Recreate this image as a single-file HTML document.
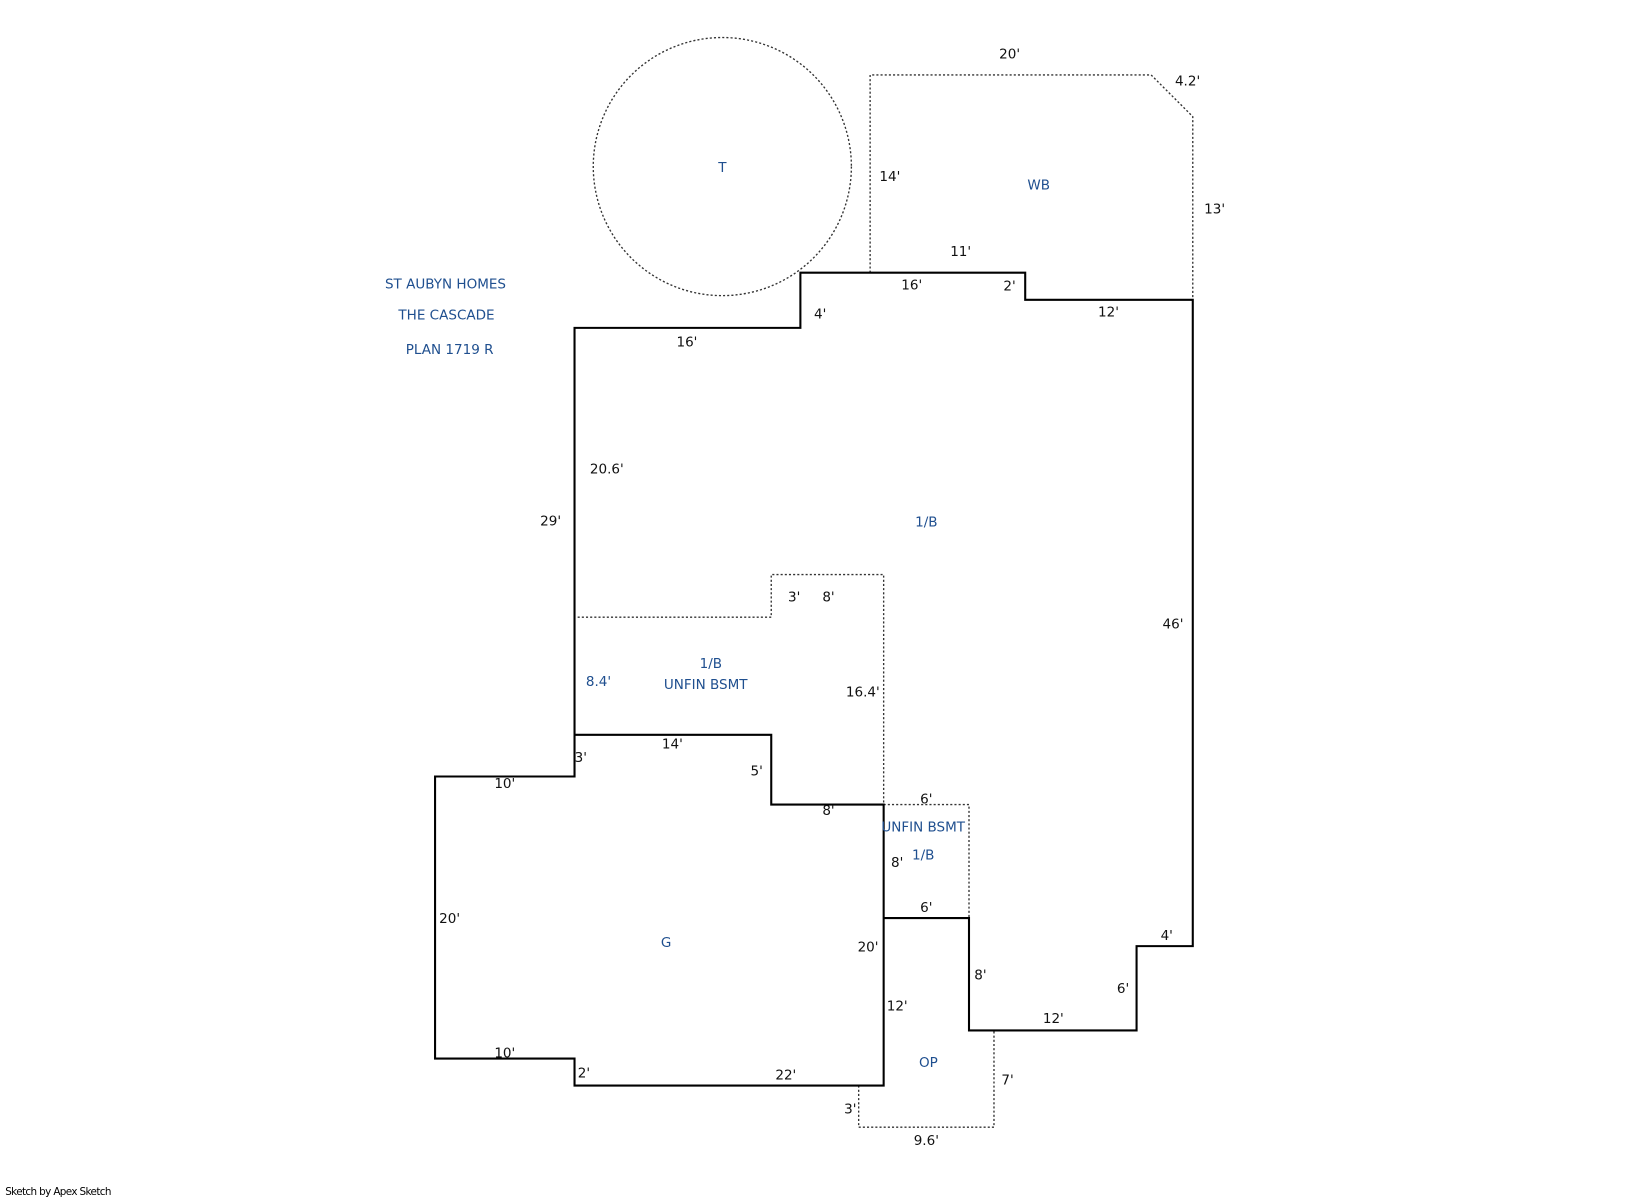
<!DOCTYPE html>
<html><head><meta charset="utf-8"><style>
html,body{margin:0;padding:0;background:#fff;}
svg{display:block;}
text{font-family:"DejaVu Sans","Liberation Sans",sans-serif;font-size:13px;}
.k{fill:#111;}
.b{fill:#1f4f8f;}
</style></head><body>
<svg width="1632" height="1197" viewBox="0 0 1568 1150" xmlns="http://www.w3.org/2000/svg">
<rect width="1568" height="1150" fill="#fff"/>
<g fill="none" stroke="#333" stroke-width="1.3" stroke-dasharray="2,2">
<circle cx="694" cy="160" r="124"/>
<polyline points="836,262 836,72 1106,72 1146,112 1146,288"/>
<polyline points="555,593 741,593 741,552 849,552 849,773"/>
<polyline points="849,773 931,773 931,882"/>
<polyline points="825,1043 825,1083 955,1083 955,990"/>
</g>
<g fill="none" stroke="#000" stroke-width="2">
<polyline points="552,746 552,315 769,315 769,262 985,262 985,288 1146,288 1146,909 1092,909 1092,990 931,990 931,882 849,882 849,1043 552,1043 552,1017 418,1017 418,746 552,746 552,706 741,706 741,773 849,773 849,882"/>
</g>
<g class="b" text-anchor="middle">
<text x="694" y="165">T</text>
<text x="998" y="182">WB</text>
<text x="428" y="277">ST AUBYN HOMES</text>
<text x="429" y="307">THE CASCADE</text>
<text x="432" y="340">PLAN 1719 R</text>
<text x="890" y="506">1/B</text>
<text x="683" y="642">1/B</text>
<text x="678" y="662">UNFIN BSMT</text>
<text x="575" y="659">8.4'</text>
<text x="887" y="799">UNFIN BSMT</text>
<text x="887" y="826">1/B</text>
<text x="640" y="910">G</text>
<text x="892" y="1025">OP</text>
</g>
<g class="k" text-anchor="middle">
<text x="970" y="56">20'</text>
<text x="1141" y="82">4.2'</text>
<text x="855" y="174">14'</text>
<text x="1167" y="205">13'</text>
<text x="923" y="246">11'</text>
<text x="876" y="278">16'</text>
<text x="970" y="279">2'</text>
<text x="1065" y="304">12'</text>
<text x="788" y="306">4'</text>
<text x="660" y="333">16'</text>
<text x="583" y="455">20.6'</text>
<text x="529" y="505">29'</text>
<text x="1127" y="604">46'</text>
<text x="763" y="578">3'</text>
<text x="796" y="578">8'</text>
<text x="829" y="669">16.4'</text>
<text x="646" y="719">14'</text>
<text x="558" y="732">3'</text>
<text x="727" y="745">5'</text>
<text x="485" y="757">10'</text>
<text x="796" y="783">8'</text>
<text x="890" y="772">6'</text>
<text x="862" y="833">8'</text>
<text x="890" y="876">6'</text>
<text x="432" y="887">20'</text>
<text x="1121" y="903">4'</text>
<text x="834" y="914">20'</text>
<text x="942" y="941">8'</text>
<text x="1079" y="954">6'</text>
<text x="862" y="971">12'</text>
<text x="1012" y="983">12'</text>
<text x="485" y="1016">10'</text>
<text x="561" y="1035">2'</text>
<text x="755" y="1037">22'</text>
<text x="968" y="1042">7'</text>
<text x="817" y="1070">3'</text>
<text x="890" y="1100">9.6'</text>
</g>
<text x="5" y="1148" style="font-size:10px;letter-spacing:-0.6px" fill="#000">Sketch by Apex Sketch</text>
</svg>
</body></html>
